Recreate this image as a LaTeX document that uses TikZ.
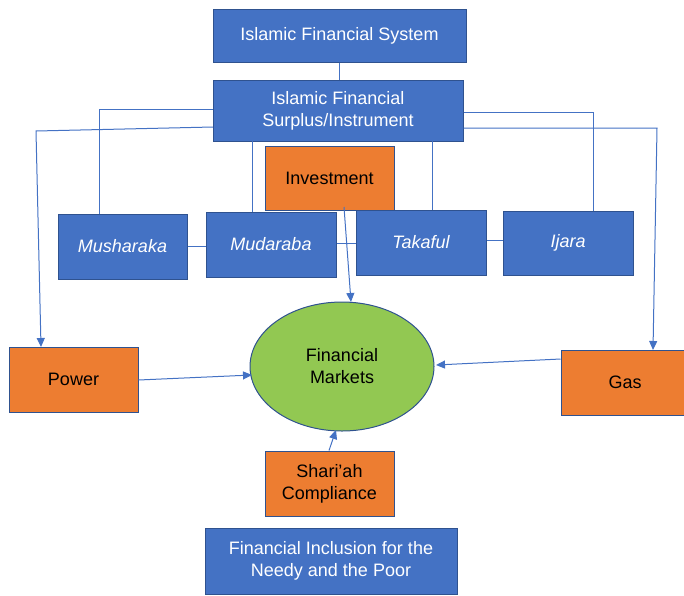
\documentclass[tikz,border=0pt]{standalone}
\usepackage{fontspec}
\setmainfont{Liberation Sans}
\usetikzlibrary{arrows.meta,shapes.geometric}
\definecolor{boxblue}{HTML}{4472C4}
\definecolor{edgeblue}{HTML}{2F528F}
\definecolor{boxorange}{HTML}{ED7D31}
\definecolor{boxgreen}{HTML}{92C852}
\tikzset{
  base/.style={draw=edgeblue, line width=1pt, inner sep=0pt, align=center, font=\fontsize{18}{22}\selectfont},
  bluebox/.style={base, rectangle, fill=boxblue, text=white},
  orangebox/.style={base, rectangle, fill=boxorange, text=black},
  greenell/.style={base, ellipse, fill=boxgreen, text=black},
  link/.style={draw=boxblue, line width=1pt},
  arr/.style={link, -{Triangle[length=9pt,width=8pt]}}
}
\begin{document}
\begin{tikzpicture}[x=1pt,y=-1pt]
\useasboundingbox (0,0) rectangle (684,595);
% nodes
\node[bluebox, minimum width=253pt, minimum height=53pt] (sys) at (339.5,35.5) {Islamic Financial System};
\node[bluebox, minimum width=250pt, minimum height=61pt] (sur) at (338,110.5) {Islamic Financial\\Surplus/Instrument};
\node[orangebox, minimum width=129pt, minimum height=64pt] (inv) at (329.5,178) {Investment};
\node[bluebox, minimum width=129pt, minimum height=65pt] (mush) at (122.5,246.5) {\itshape Musharaka};
\node[bluebox, minimum width=130pt, minimum height=65pt] (muda) at (271,244.5) {\itshape Mudaraba};
\node[bluebox, minimum width=130pt, minimum height=65pt] (tak) at (421,242.5) {\itshape Takaful};
\node[bluebox, minimum width=130pt, minimum height=64pt] (ij) at (568,243) {\itshape Ijara};
\node[orangebox, minimum width=129pt, minimum height=65pt] (pow) at (73.5,379.5) {Power};
\node[greenell, minimum width=184pt, minimum height=129pt] (fm) at (342,366.5) {Financial\\Markets};
\node[orangebox, minimum width=128pt, minimum height=65pt] (gas) at (625,382.5) {Gas};
\node[orangebox, minimum width=129pt, minimum height=65pt] (sha) at (329.5,483.5) {Shari’ah\\Compliance};
\node[bluebox, minimum width=252pt, minimum height=66pt] (inc) at (331,561) {Financial Inclusion for the\\Needy and the Poor};
% bend points
\coordinate (cM) at (99,109);
\coordinate (cP1) at (36,131);
\coordinate (cP0) at (213,127);
\coordinate (cP2) at (41,347);
\coordinate (cI) at (593,112);
\coordinate (cG1) at (657,128);
\coordinate (cG2) at (653,350);
\coordinate (cD) at (252,141);
\coordinate (cT) at (432,141);
\coordinate (cS) at (339,62);
% tree lines
\draw[link] (sys.south -| cS) -- (sur.north -| cS);
\draw[link] (sur.west |- cM) -- (cM) -- (mush.north -| cM);
\draw[link] (cD) -- (muda.north -| cD);
\draw[link] (cT) -- (tak.north -| cT);
\draw[link] (sur.east |- cI) -- (cI) -- (ij.north -| cI);
\draw[arr] (cP0) -- (cP1) -- (cP2);
\draw[arr] (sur.east |- cG1) -- (cG1) -- (cG2);
% side links
\draw[link] (mush.east |- 0,246) -- (muda.west |- 0,246);
\draw[link] (muda.east |- 0,243) -- (tak.west |- 0,243);
\draw[link] (tak.east |- 0,240) -- (ij.west |- 0,240);
% arrows to market
\coordinate (invS) at (344,207);
\coordinate (fmN) at (351,302);
\draw[arr] (invS) -- (fmN);
\draw[arr] (pow.east |- 0,380) -- (252,375);
\draw[arr] (gas.west |- 0,359) -- (436,365);
\draw[arr] (sha.north -| 329,0) -- (336,430);
\end{tikzpicture}
\end{document}
